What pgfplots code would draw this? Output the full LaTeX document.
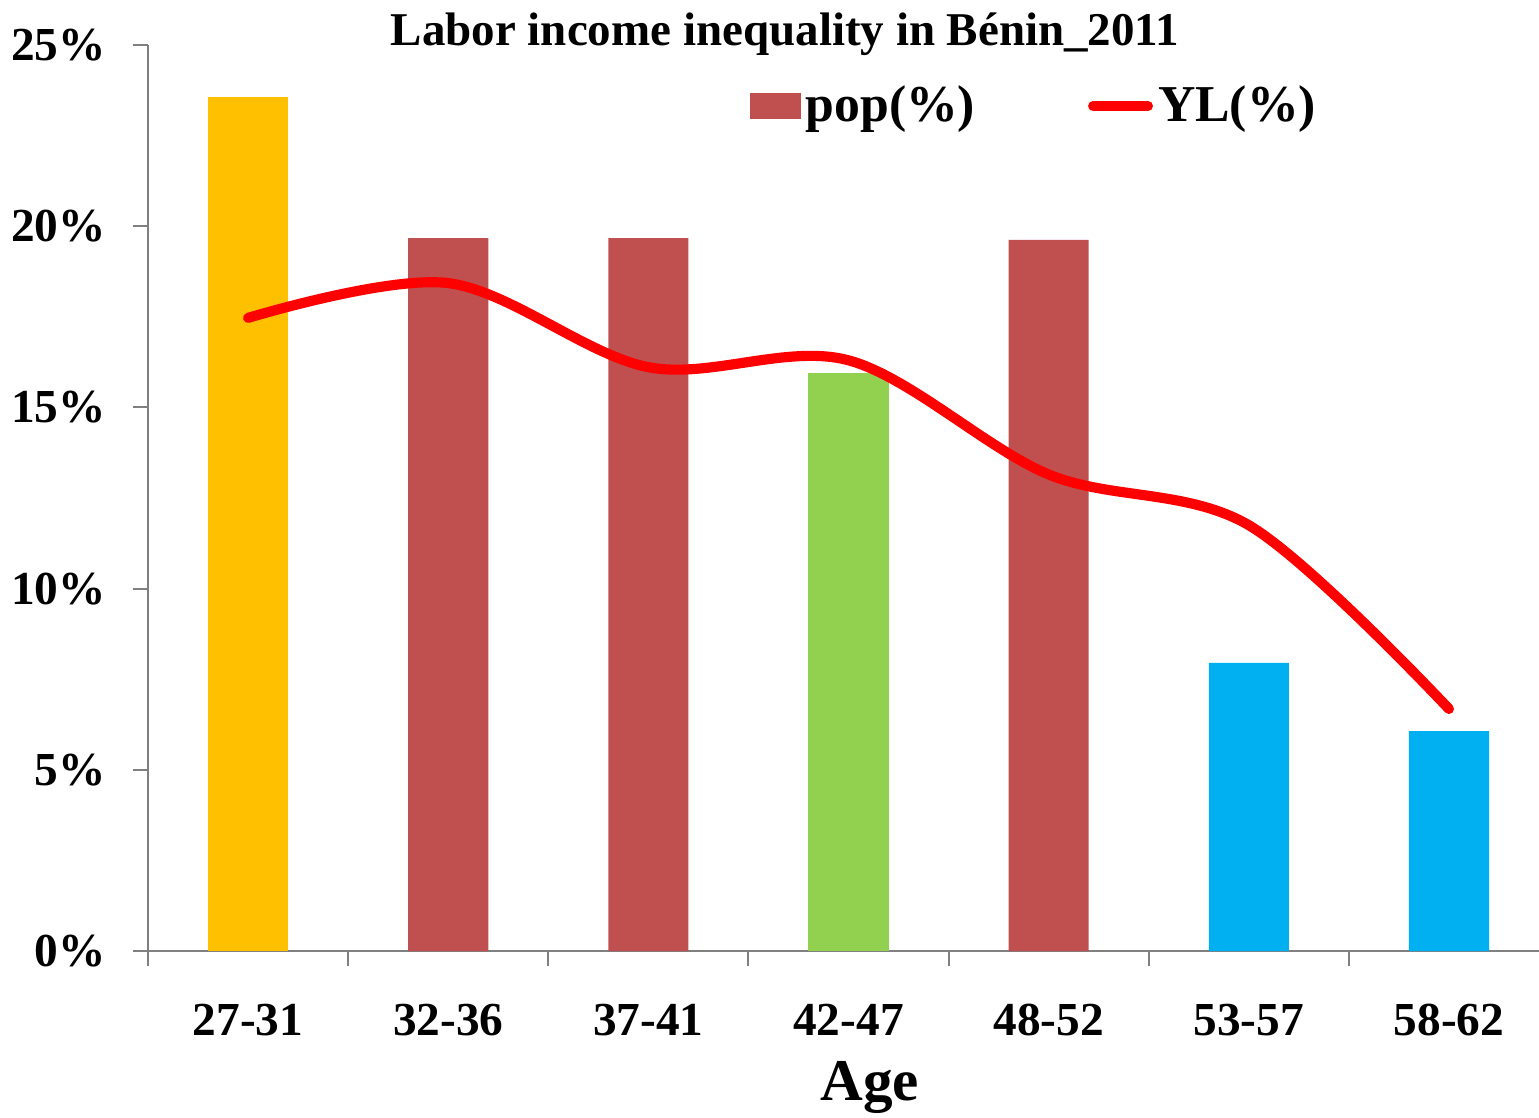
\documentclass[border=0pt]{standalone}
\usepackage{fontspec}
\setmainfont{Liberation Serif}[BoldFont={Liberation Serif Bold}]
\usepackage{pgfplots}
\pgfplotsset{compat=1.18}
\definecolor{cyel}{HTML}{FFC000}
\definecolor{cred}{HTML}{C0504F}
\definecolor{cgrn}{HTML}{92D050}
\definecolor{cblu}{HTML}{00B0F0}
\definecolor{axgray}{HTML}{808080}
\begin{document}
\bfseries
\begin{tikzpicture}
\begin{axis}[
  scale only axis,
  width=14.461cm, height=9.419cm,
  xmin=-0.5, xmax=6.45, ymin=0, ymax=25,
  axis lines=left,
  axis line style={-, draw=axgray, line width=0.6pt},
  every tick/.style={draw=axgray, line width=0.6pt},
  tick align=outside,
  xtick={0,...,6},
  xticklabels={27-31,32-36,37-41,42-47,48-52,53-57,58-62},
  major x tick style={draw=none},
  minor xtick={-0.5,0.5,1.5,2.5,3.5,4.5,5.5},
  minor tick length=0.156cm,
  major tick length=0.156cm,
  ytick={0,5,10,15,20,25},
  yticklabel={\pgfmathprintnumber{\tick}\%},
  /pgf/number format/assume math mode=true,
  ticklabel style={font=\fontsize{14}{16}\selectfont\bfseries},
  xticklabel style={yshift=-0.27cm},
  yticklabel style={xshift=-0.16cm},
  clip=false,
  legend columns=2,
  legend style={draw=none, fill=none, at={(rel axis cs:0.432,0.9327)}, anchor=west,
    inner sep=0pt, font=\fontsize{15.3}{18}\selectfont\bfseries,
    /tikz/every even column/.append style={column sep=1.12cm},
    nodes={inner sep=1.5pt}},
]
\addplot[ybar, bar width=0.4, bar shift=0pt, fill=cyel, draw=none, forget plot]
  coordinates {(0,23.57)};
\addplot[ybar, bar width=0.4, bar shift=0pt, fill=cred, draw=none,
  legend image code/.code={\fill[cred] (0cm,-0.14cm) rectangle (0.53cm,0.14cm);}]
  coordinates {(1,19.67) (2,19.67) (4,19.62)};
\addlegendentry{pop(\%)}
\addplot[ybar, bar width=0.4, bar shift=0pt, fill=cgrn, draw=none, forget plot]
  coordinates {(3,15.95)};
\addplot[ybar, bar width=0.4, bar shift=0pt, fill=cblu, draw=none, forget plot]
  coordinates {(5,7.95) (6,6.07)};
\addplot[red, line width=3pt, line cap=round, smooth, tension=0.55, mark=none,
  legend image code/.code={\draw[red, line width=3pt, line cap=round] (0.03cm,0cm) -- (0.6cm,0cm);}]
  coordinates {(0,17.47) (1,18.43) (2,16.11) (3,16.30) (4,13.15) (5,11.75) (6,6.68)};
\addlegendentry{YL(\%)}
\node[anchor=base, font=\fontsize{13.9}{16}\selectfont\bfseries] at (rel axis cs:0.458,1) {Labor income inequality in Bénin\_2011};
\node[anchor=base, font=\fontsize{17.5}{20}\selectfont\bfseries] at (rel axis cs:0.519,0) [yshift=-1.549cm] {Age};
\end{axis}
\pgfresetboundingbox
\path (-1.5387cm,-1.7258cm) rectangle (14.461cm,9.887cm);
\end{tikzpicture}
\end{document}
